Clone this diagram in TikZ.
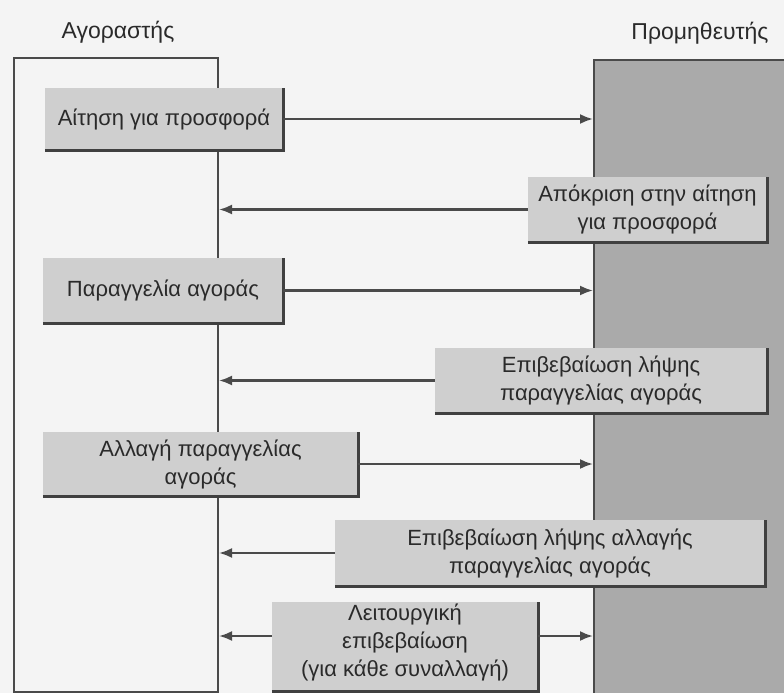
\documentclass[tikz,border=0pt]{standalone}
\usepackage{fontspec}
\setmainfont{Liberation Sans}
\usetikzlibrary{arrows.meta}
\definecolor{bgc}{HTML}{F4F4F4}
\definecolor{boxc}{HTML}{CFCFCF}
\definecolor{supc}{HTML}{AAAAAA}
\definecolor{linec}{HTML}{4A4A4A}
\definecolor{shadc}{HTML}{404040}
\definecolor{txtc}{HTML}{2A2A2A}
\tikzset{
  msgbox/.style={fill=boxc, draw=none, align=center, inner sep=0pt,
    font=\fontsize{22}{28}\selectfont, text=txtc},
  shadowline/.style={draw=shadc, line width=2.8pt},
  arr/.style={draw=linec, line width=2.2pt, -{Latex[length=13pt,width=10pt]}},
  title/.style={font=\fontsize{23}{26}\selectfont, text=txtc}
}
\begin{document}
\begin{tikzpicture}[x=1pt,y=-1pt]
\useasboundingbox (0,0) rectangle (784,693);
\clip (0,0) rectangle (784,693);
\fill[bgc] (0,0) rectangle (784,693);
% titles
\node[title] (tb) at (118,32) {Αγοραστής};
\node[title] (ts) at (700,33) {Προμηθευτής};
% lifelines
\node[draw=linec, line width=2pt, fill=bgc, minimum width=204pt, minimum height=634pt, anchor=north west, inner sep=0pt] (buyer) at (13,57) {};
\node[draw=linec, line width=2pt, fill=supc, minimum width=210pt, minimum height=650pt, anchor=north west, inner sep=0pt] (supplier) at (593,59) {};
% boxes
\node[msgbox, minimum width=238pt, minimum height=62pt] (b1) at (164,119) {Αίτηση για προσφορά};
\node[msgbox, minimum width=239pt, minimum height=65pt] (b2) at (647.5,209.5) {Απόκριση στην αίτηση\\για προσφορά};
\node[msgbox, minimum width=240pt, minimum height=65pt] (b3) at (163,290.5) {Παραγγελία αγοράς};
\node[msgbox, minimum width=332pt, minimum height=65pt] (b4) at (601,380.5) {Επιβεβαίωση λήψης\\παραγγελίας αγοράς};
\node[msgbox, minimum width=315pt, minimum height=64pt] (b5) at (200.5,464) {Αλλαγή παραγγελίας\\αγοράς};
\node[msgbox, minimum width=430pt, minimum height=66pt] (b6) at (550,553) {Επιβεβαίωση λήψης αλλαγής\\παραγγελίας αγοράς};
\node[msgbox, minimum width=266pt, minimum height=89pt, anchor=north] (b7) at (405,602) {};
\node[msgbox, anchor=center] (t7) at (405,642) {Λειτουργική\\επιβεβαίωση\\(για κάθε συναλλαγή)};
% shadows
\foreach \n in {b1,b2,b3,b4,b5,b6,b7}{
  \draw[shadowline] (\n.south west) -- (\n.south east) -- (\n.north east);
}
% arrows
\draw[arr] (b1.east) -- (b1.east -| supplier.west);
\draw[arr] (b2.west) -- (b2.west -| buyer.east);
\draw[arr] (b3.east) -- (b3.east -| supplier.west);
\draw[arr] (b4.west) -- (b4.west -| buyer.east);
\draw[arr] (b5.east) -- (b5.east -| supplier.west);
\draw[arr] (b6.west) -- (b6.west -| buyer.east);
\draw[arr] (b7.west |- 0,636) -- (buyer.east |- 0,636);
\draw[arr] (b7.east |- 0,636) -- (supplier.west |- 0,636);
\end{tikzpicture}
\end{document}
